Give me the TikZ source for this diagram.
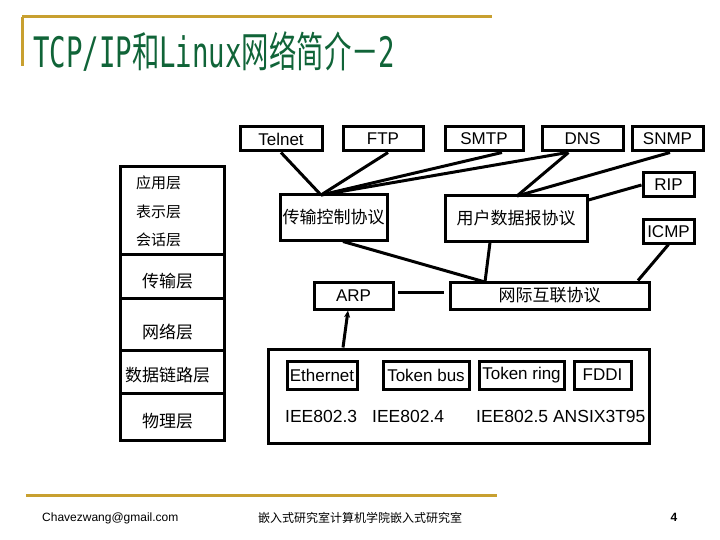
\documentclass[tikz,border=0pt]{standalone}
\usepackage{fontspec}
\setmainfont{Liberation Sans}
\newfontfamily\cjk{Noto Sans CJK SC}
\newfontfamily\titlemono{DejaVu Sans Mono}
\usetikzlibrary{arrows.meta}
\definecolor{gold}{RGB}{200,160,48}
\definecolor{titlegreen}{RGB}{16,100,56}
\begin{document}
\begin{tikzpicture}[x=1pt,y=-1pt,
  bx/.style={draw,line width=3pt,inner sep=0pt,font=\fontsize{17}{17}\selectfont},
  cbx/.style={bx,font=\cjk\fontsize{17}{17}\selectfont},
  lbl/.style={inner sep=0pt,font=\fontsize{17.5}{17.5}\selectfont},
  clbl/.style={inner sep=0pt,font=\cjk\fontsize{17}{17}\selectfont},
  sclbl/.style={inner sep=0pt,font=\cjk\fontsize{15}{15}\selectfont},
  conn/.style={line width=3pt},
  seg/.style={draw,line width=3pt,inner sep=0pt,minimum width=104pt},
  goldline/.style={draw=gold,line width=3pt}]
\useasboundingbox (0,0) rectangle (720,540);
% title
\draw[goldline] (22,17) -- (492,17);
\draw[goldline] (22,17) -- (22,66);
\node[anchor=base west,inner sep=0pt,text=titlegreen] (title) at (33,68)
  {\scalebox{0.652}[1]{\fontsize{42}{42}\selectfont\titlemono TCP/IP\cjk 和\titlemono Linux\cjk 网络简介－\titlemono 2}};
% layer stack
\node[seg,minimum height=87pt] (s1) at (172,210.5) {};
\node[seg,minimum height=44pt] (s2) at (172,276) {};
\node[seg,minimum height=52pt] (s3) at (172,324) {};
\node[seg,minimum height=43pt] (s4) at (172,371.5) {};
\node[seg,minimum height=47pt] (s5) at (172,416.5) {};
\node[sclbl,anchor=west] (l1) at (136,183) {应用层};
\node[sclbl,anchor=west] (l2) at (136,212) {表示层};
\node[sclbl,anchor=west] (l3) at (136,240) {会话层};
\node[clbl] (l4) at (167.5,281) {传输层};
\node[clbl] (l5) at (167.5,332) {网络层};
\node[clbl] (l6) at (167.5,375) {数据链路层};
\node[clbl] (l7) at (167.5,421) {物理层};
% application protocols
\node[bx,minimum width=82pt,minimum height=24pt] (telnet) at (281,139) {Telnet};
\node[bx,minimum width=80pt,minimum height=24pt] (ftp) at (383,139) {FTP};
\node[bx,minimum width=78pt,minimum height=24pt] (smtp) at (484,139) {SMTP};
\node[bx,minimum width=81pt,minimum height=24pt] (dns) at (582.5,139) {DNS};
\node[bx,minimum width=71pt,minimum height=24pt] (snmp) at (667.5,139) {SNMP};
\node[bx,minimum width=51pt,minimum height=24pt] (rip) at (668.5,185) {RIP};
\node[bx,minimum width=51pt,minimum height=23pt] (icmp) at (668.5,231.5) {ICMP};
% transport / network
\node[cbx,minimum width=107pt,minimum height=45pt] (tcp) at (333.5,217.5) {传输控制协议};
\node[cbx,minimum width=142pt,minimum height=45pt] (udp) at (516,218.5) {用户数据报协议};
\node[cbx,minimum width=199pt,minimum height=27pt] (ip) at (549.5,295.5) {网际互联协议};
\node[bx,minimum width=79pt,minimum height=27pt] (arp) at (353.5,295.5) {ARP};
% link layer
\node[draw,line width=3pt,minimum width=381pt,minimum height=94pt,inner sep=0pt] (link) at (458.5,396) {};
\node[bx,minimum width=70pt,minimum height=28pt] (eth) at (322,375) {Ethernet};
\node[bx,minimum width=86pt,minimum height=28pt] (tbus) at (426,375) {Token bus};
\node[bx,minimum width=85pt,minimum height=28pt] (tring) at (521.5,375) {Token ring};
\node[bx,minimum width=57pt,minimum height=28pt] (fddi) at (602.5,375) {FDDI};
\node[lbl,anchor=west] (i3) at (285,416) {IEE802.3};
\node[lbl,anchor=west] (i4) at (372,416) {IEE802.4};
\node[lbl,anchor=west] (i5) at (476,416) {IEE802.5 ANSIX3T95};
% connectors
\coordinate (tcpj) at (321,195);
\coordinate (udpj) at (517,196);
\coordinate (ipj) at (485,282);
\draw[conn] (telnet.south) -- (tcpj);
\draw[conn] ([xshift=5pt]ftp.south) -- (tcpj);
\draw[conn] ([xshift=18pt]smtp.south) -- (tcpj);
\draw[conn] ([xshift=-15pt]dns.south) -- (tcpj);
\draw[conn] ([xshift=-14pt]dns.south) -- (udpj);
\draw[conn] ([xshift=2.5pt]snmp.south) -- (udpj);
\draw[conn] (rip.west) -- ([yshift=18.5pt]udp.east);
\draw[conn] ([xshift=9.5pt]tcp.south) -- (ipj);
\draw[conn] ([xshift=-26pt]udp.south) -- (ipj);
\draw[conn] (icmp.south) -- ([xshift=88.5pt]ip.north);
\draw[conn] ([xshift=3pt,yshift=3.5pt]arp.east) -- ([xshift=-5pt,yshift=3.5pt]ip.west);
\draw[conn,-{Stealth[length=7pt,width=6pt]}] ([xshift=-115.5pt]link.north) -- ([xshift=-5.5pt]arp.south);
% footer
\draw[goldline] (26,495) -- (497,495);
\node[anchor=west,inner sep=0pt,font=\fontsize{12}{12}\selectfont] (mail) at (42,518) {Chavezwang@gmail.com};
\node[inner sep=0pt,font=\cjk\fontsize{12}{12}\selectfont] (foot) at (360,518) {嵌入式研究室计算机学院嵌入式研究室};
\node[inner sep=0pt,font=\bfseries\fontsize{12}{12}\selectfont] (pg) at (674,517) {4};
\end{tikzpicture}
\end{document}
